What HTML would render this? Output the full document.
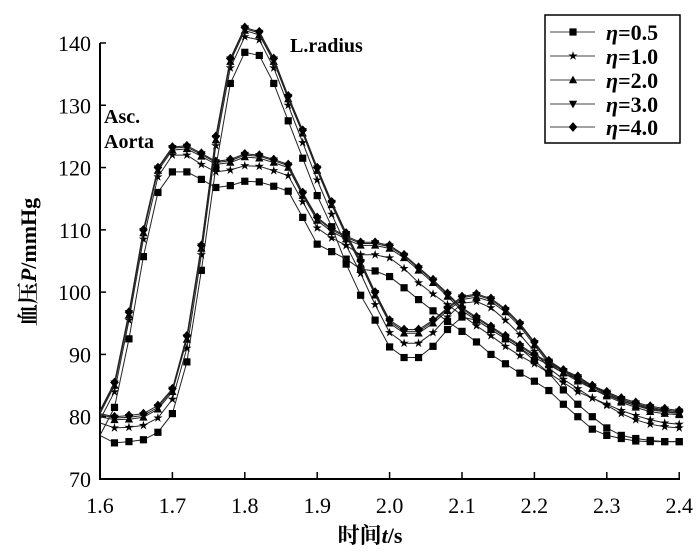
<!DOCTYPE html>
<html><head><meta charset="utf-8"><style>
body{margin:0;background:#fff}
svg{display:block}
text{font-family:"Liberation Serif","Noto Serif CJK SC",serif;fill:#000}
</style></head><body>
<svg id="chart" width="700" height="554" viewBox="0 0 700 554">
<g id="axes"></g>
<g id="series"></g>
<text x="290" y="52" font-size="20" font-weight="bold">L.radius</text>
<text x="104" y="123" font-size="20" font-weight="bold">Asc.</text>
<text x="104" y="148" font-size="20" font-weight="bold">Aorta</text>
<text x="370" y="543" font-size="22" font-weight="bold" text-anchor="middle">时间<tspan font-style="italic">t</tspan>/s</text>
<text transform="translate(36,262) rotate(-90)" font-size="22" font-weight="bold" text-anchor="middle">血压<tspan font-style="italic">P</tspan>/mmHg</text>
<rect x="545" y="15" width="135" height="128" fill="#fff" stroke="#000" stroke-width="1.5"/>
<g id="legend"></g>
</svg>
<script>
const times = [];
for (let i = 0; i <= 40; i++) times.push(1.6 + i * 0.02);
const xTicks = [1.6,1.7,1.8,1.9,2.0,2.1,2.2,2.3,2.4];
const xTickLabels = ["1.6","1.7","1.8","1.9","2.0","2.1","2.2","2.3","2.4"];
const yTicks = [70,80,90,100,110,120,130,140];
const seriesNames = ["η=0.5","η=1.0","η=2.0","η=3.0","η=4.0"];
const markerTypes = ["square","star","tri-up","tri-down","diamond"];

const aorta05 = [77,81.5,92.5,105.7,116,119.3,119.3,118.1,116.8,117.1,117.8,117.7,117,116.2,112,107.7,106.5,105.3,103.7,103.4,102.5,100.7,98.8,97,95.3,93.7,92,90,88.5,87,85.7,84.2,82,80,78,77,76.5,76.1,76,76,76];
const aorta10 = [79.5,84,95.5,108.5,118.5,122,122,120.5,119.3,119.6,120.3,120.2,119.5,118.7,114.5,110.3,108.7,107.5,106,106,105.5,103.8,101.5,99.7,98,96.3,94.6,93,91.3,89.8,88.5,87,85.5,84,83,82,81,80.2,79.5,79,78.8];
const aorta20 = [80.5,85,96.3,109.5,119.5,122.8,123,121.8,120.5,120.8,121.7,121.5,120.8,120,115.5,111.5,109.7,108.5,107.5,107.5,107,105.5,103.5,101.5,99.3,97,95.5,94,92.5,91,89.5,88.3,87,85.7,84.5,83.3,82.3,81.5,80.8,80.5,80.3];
const aorta30 = [80.8,85.3,96.6,109.8,119.8,123.1,123.3,122.1,120.8,121.1,122,121.8,121.1,120.3,115.8,111.8,110,108.8,107.8,107.8,107.3,105.8,103.8,101.8,99.6,97.3,95.8,94.3,92.8,91.3,89.8,88.6,87.3,86,84.8,83.6,82.6,81.8,81.1,80.8,80.6];
const aorta40 = [81,85.5,96.8,110,120,123.3,123.5,122.3,121,121.3,122.2,122,121.3,120.5,116,112,110.2,109,108,108,107.5,106,104,102,99.8,97.5,96,94.5,93,91.5,90,88.8,87.5,86.2,85,83.8,82.8,82,81.3,81,80.8];

const radius05 = [77,75.8,76,76.3,77.5,80.5,88.8,103.5,120,133.5,138.5,138,133.5,127.5,121.5,115.5,110.5,104.5,99.5,95.5,91.2,89.5,89.5,91.3,94,96,95.5,94,92.5,91,89,87,84.3,82,80,78.2,77,76.5,76.2,76,76];
const radius10 = [79,78.2,78.3,78.6,79.8,82.8,91,106,123.5,136,141,140.5,136,130,124,118,112.5,107.5,103,98,93.5,91.8,91.8,93.5,96,98.2,98.5,97.5,95.5,93.2,90.5,87.8,86,84.5,83,81.8,80.5,79.5,78.8,78.4,78.2];
const radius20 = [80,79.5,79.6,79.9,81.2,84,92.4,107,124.4,137,142,141.3,137,131,125.5,119.5,114,109,104.5,99.5,95,93.4,93.4,95,97,98.8,99.2,98.5,96.8,94.5,91.5,88.5,87,86,84.5,83.5,82.5,81.8,81.2,80.8,80.5];
const radius30 = [80.3,79.8,79.9,80.2,81.5,84.3,92.7,107.3,124.7,137.3,142.3,141.6,137.3,131.3,125.8,119.8,114.3,109.3,104.8,99.8,95.3,93.7,93.7,95.3,97.3,99.1,99.5,98.8,97.1,94.8,91.8,88.8,87.3,86.3,84.8,83.8,82.8,82.1,81.5,81.1,80.8];
const radius40 = [80.5,80,80.2,80.5,81.8,84.5,93,107.5,125,137.5,142.5,141.8,137.5,131.5,126,120,114.5,109.5,105,100,95.5,94,94,95.5,97.5,99.3,99.7,99,97.3,95,92,89,87.5,86.5,85,84,83,82.3,81.7,81.3,81];

const aortaSeries = [aorta05,aorta10,aorta20,aorta30,aorta40];
const radiusSeries = [radius05,radius10,radius20,radius30,radius40];

const NS = "http://www.w3.org/2000/svg";
const xS = t => 100 + (t - 1.6) * 724;
const yS = v => 479 - (v - 70) * 6.229;
function mk(tag, attrs, parent) {
  const e = document.createElementNS(NS, tag);
  for (const k in attrs) e.setAttribute(k, attrs[k]);
  parent.appendChild(e);
  return e;
}
function markerPath(type, cx, cy, s) {
  if (type === "square") return `M${cx-s},${cy-s}h${2*s}v${2*s}h${-2*s}Z`;
  if (type === "tri-up") return `M${cx},${cy-s*1.2}L${cx+s*1.15},${cy+s*0.9}L${cx-s*1.15},${cy+s*0.9}Z`;
  if (type === "tri-down") return `M${cx},${cy+s*1.2}L${cx+s*1.15},${cy-s*0.9}L${cx-s*1.15},${cy-s*0.9}Z`;
  if (type === "diamond") return `M${cx},${cy-s*1.35}L${cx+s*1.2},${cy}L${cx},${cy+s*1.35}L${cx-s*1.2},${cy}Z`;
  let d = "";
  for (let i = 0; i < 10; i++) {
    const r = i % 2 ? s * 0.5 : s * 1.35;
    const a = -Math.PI / 2 + i * Math.PI / 5;
    d += (i ? "L" : "M") + (cx + r * Math.cos(a)).toFixed(2) + "," + (cy + r * Math.sin(a)).toFixed(2);
  }
  return d + "Z";
}
const axes = document.getElementById("axes");
const yAxis = mk("line", {x1:100,y1:43,x2:100,y2:480,stroke:"#000","stroke-width":2}, axes);


const xAxis = mk("line", {x1:99,y1:479,x2:680,y2:479,stroke:"#000","stroke-width":2}, axes);


yTicks.forEach(v => {
  const tk = mk("line", {x1:100,y1:yS(v),x2:106,y2:yS(v),stroke:"#000","stroke-width":1.5}, axes);
  
  
  const tl = mk("text", {x:91,y:yS(v)+8,"font-size":22,"text-anchor":"end"}, axes);
  tl.textContent = String(v);
  
  
});
xTicks.forEach((t, i) => {
  const tk = mk("line", {x1:xS(t),y1:479,x2:xS(t),y2:472,stroke:"#000","stroke-width":1.5}, axes);
  
  
  const tl = mk("text", {x:xS(t),y:513,"font-size":22,"text-anchor":"middle"}, axes);
  tl.textContent = xTickLabels[i];
  
  
});
const sg = document.getElementById("series");
function drawSeries(vals, idx, label) {
  const g = mk("g", {}, sg);
  
  
  const d = vals.map((v, i) => (i ? "L" : "M") + xS(times[i]).toFixed(1) + "," + yS(v).toFixed(1)).join("");
  const p = mk("path", {d:d,fill:"none",stroke:"#222","stroke-width":1}, g);
  
  
  vals.forEach((v, i) => {
    if (i === 0) return;
    const m = mk("path", {d:markerPath(markerTypes[idx], xS(times[i]), yS(v), 3.6), fill:"#000"}, g);
    
    
  });
}
aortaSeries.forEach((s, i) => drawSeries(s, i, "aorta-series-" + i));
radiusSeries.forEach((s, i) => drawSeries(s, i, "radius-series-" + i));
const lg = document.getElementById("legend");
const legYs = [32,56,80,104,127];
seriesNames.forEach((n, i) => {
  const g = mk("g", {}, lg);
  
  
  mk("line", {x1:550,y1:legYs[i],x2:595,y2:legYs[i],stroke:"#444","stroke-width":1}, g);
  mk("path", {d:markerPath(markerTypes[i], 573, legYs[i], 3.6), fill:"#000"}, g);
  const t = mk("text", {x:606,y:legYs[i]+8,"font-size":22,"font-weight":"bold"}, g);
  t.innerHTML = '<tspan font-style="italic">η</tspan>' + n.slice(1);
});
</script>
</body></html>
